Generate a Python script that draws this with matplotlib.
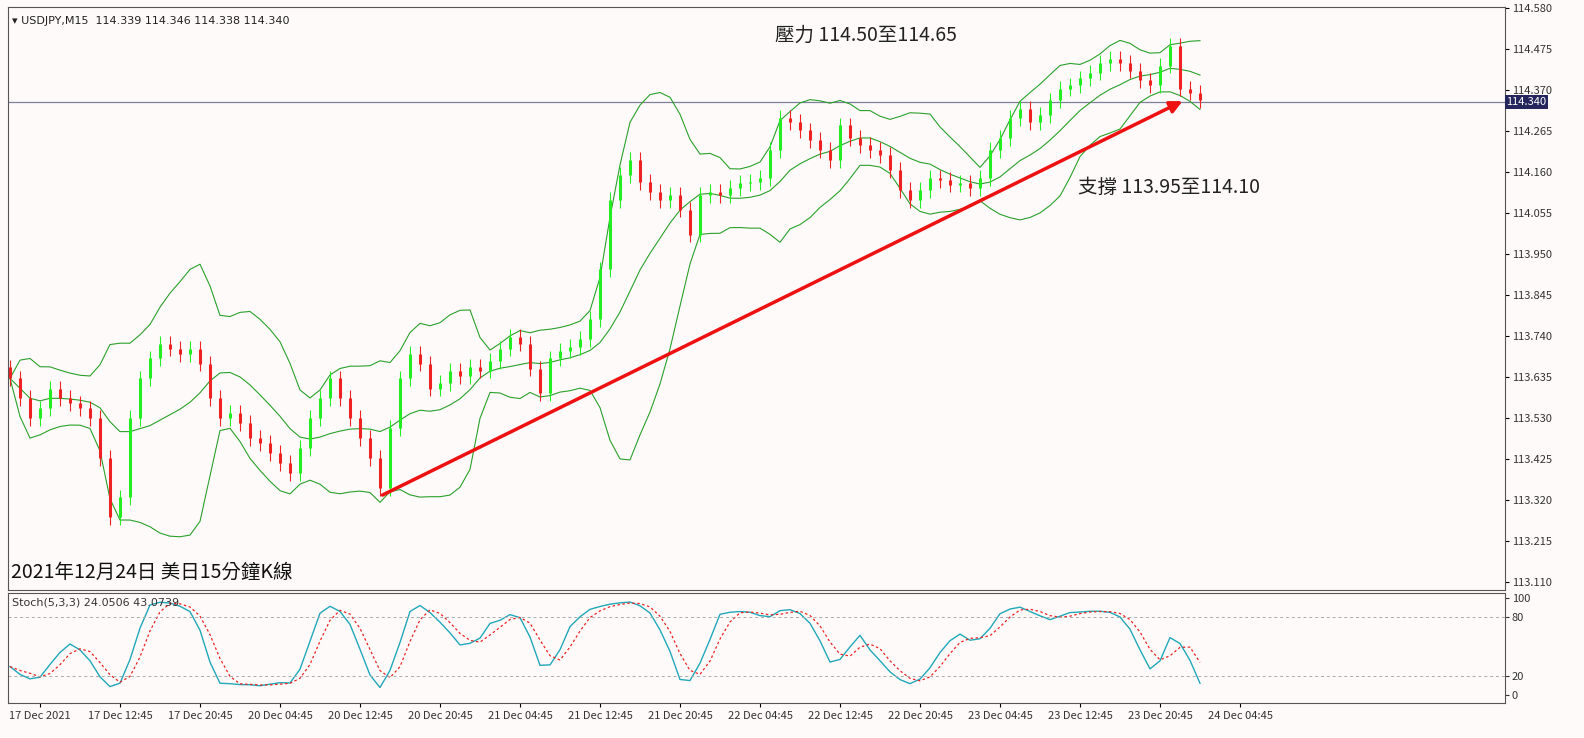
import numpy as np, pandas as pd
import matplotlib
matplotlib.use("Agg")
import matplotlib.pyplot as plt
plt.rcParams['font.family'] = ['Noto Sans CJK TC', 'DejaVu Sans']

closes = [113.632,113.581,113.530,113.555,113.606,113.581,113.568,113.555,113.530,113.428,
113.276,113.327,113.530,113.632,113.683,113.721,113.708,113.695,113.708,113.670,
113.581,113.530,113.543,113.517,113.479,113.466,113.441,113.415,113.390,113.454,
113.530,113.581,113.632,113.581,113.530,113.479,113.428,113.352,113.505,113.632,
113.695,113.670,113.606,113.620,113.652,113.637,113.662,113.652,113.677,113.708,
113.738,113.721,113.657,113.594,113.683,113.703,113.713,113.733,113.784,113.911,
114.089,114.153,114.191,114.135,114.110,114.089,114.102,114.064,114.000,114.102,
114.110,114.102,114.120,114.133,114.135,114.145,114.217,114.298,114.288,114.267,
114.242,114.217,114.191,114.280,114.247,114.229,114.217,114.204,114.166,114.115,
114.089,114.115,114.145,114.140,114.128,114.133,114.120,114.145,114.217,114.247,
114.298,114.323,114.288,114.306,114.344,114.374,114.382,114.400,114.415,114.440,
114.451,114.440,114.420,114.395,114.382,114.433,114.484,114.374,114.364,114.344]
first_open = 113.660
tick_labels = ["17 Dec 2021","17 Dec 12:45","17 Dec 20:45","20 Dec 04:45","20 Dec 12:45",
"20 Dec 20:45","21 Dec 04:45","21 Dec 12:45","21 Dec 20:45","22 Dec 04:45","22 Dec 12:45",
"22 Dec 20:45","23 Dec 04:45","23 Dec 12:45","23 Dec 20:45","24 Dec 04:45"]
yticks = [113.110,113.215,113.320,113.425,113.530,113.635,113.740,113.845,113.950,
114.055,114.160,114.265,114.370,114.475,114.580]
last_price = 114.340

c = np.array(closes); o = np.concatenate([[first_open], c[:-1]])
h = np.maximum(o, c) + 0.02; l = np.minimum(o, c) - 0.02
n = len(c); x = np.arange(n)
s = pd.Series(c)
mid = s.rolling(10, min_periods=1).mean(); sd = s.rolling(10, min_periods=1).std().fillna(0)
up = mid + 2*sd; lo = mid - 2*sd
hh = pd.Series(h).rolling(5, min_periods=1).max(); ll = pd.Series(l).rolling(5, min_periods=1).min()
k = ((s-ll).rolling(3,min_periods=1).sum()/(hh-ll).rolling(3,min_periods=1).sum()*100)
d = k.rolling(3, min_periods=1).mean()

bg = '#fffafa'
fig = plt.figure(figsize=(15.84, 7.38), dpi=100, facecolor=bg)
W, H = 1584, 738
ax = fig.add_axes([8/W, 1-590/H, 1497/W, 583/H], facecolor=bg)
ax2 = fig.add_axes([8/W, 1-703/H, 1497/W, 110/H], facecolor=bg, sharex=ax)
for a in (ax, ax2):
    for sp in a.spines.values(): sp.set_color('#555555'); sp.set_linewidth(0.8)
ax.axhline(last_price, color='#7a7f9a', lw=0.9)
ax.plot(x, up, color='#2aa02a', lw=0.8); ax.plot(x, mid, color='#2aa02a', lw=0.8); ax.plot(x, lo, color='#2aa02a', lw=0.8)
for i in range(n):
    col = '#22ee22' if c[i] >= o[i] else '#ee2222'
    ax.vlines(i, l[i], h[i], color=col, lw=0.8)
    ax.vlines(i, min(o[i],c[i]), max(o[i],c[i]), color=col, lw=2.2)
ax.annotate('', xy=(117.5, 114.345), xytext=(37, 113.33),
            arrowprops=dict(arrowstyle='-|>', color='#ee1111', lw=2.5, mutation_scale=18))
ax.set_xlim(-0.2, 149.5)
ax.set_ylim(113.09, 114.583)
ax.yaxis.tick_right(); ax.set_yticks(yticks)
ax.set_yticklabels([f"{v:.3f}" for v in yticks], fontsize=8, color='#333333')
ax.tick_params(axis='y', length=3, pad=2)
ax.tick_params(axis='x', bottom=False, labelbottom=False)
ax.text(1.001, last_price, f"{last_price:.3f}", transform=ax.get_yaxis_transform(),
        fontsize=8, color='white', va='center', ha='left',
        bbox=dict(boxstyle='square,pad=0.15', fc='#26265e', ec='none'))
ax.text(0.003, 0.985, '▾ USDJPY,M15  114.339 114.346 114.338 114.340', transform=ax.transAxes,
        fontsize=8, va='top', color='#222222', family=['DejaVu Sans'])
ax.text(0.573, 0.97, '壓力 114.50至114.65', transform=ax.transAxes, fontsize=14, ha='center', va='top', color='#222222')
ax.text(0.715, 0.69, '支撐 113.95至114.10', transform=ax.transAxes, fontsize=14, ha='left', va='center', color='#222222')
ax.text(0.002, 0.012, '2021年12月24日 美日15分鐘K線', transform=ax.transAxes, fontsize=14, ha='left', va='bottom', color='#111111')

ax2.plot(x, k, color='#20a8b8', lw=1.0)
ax2.plot(x, d, color='#ee2222', lw=0.9, ls=(0,(2,2)))
for lv in (80, 20): ax2.axhline(lv, color='#aaaaaa', lw=0.7, ls=(0,(3,3)))
ax2.set_ylim(-8, 105)
ax2.yaxis.tick_right(); ax2.set_yticks([0,20,80,100])
ax2.tick_params(axis='y', labelsize=8, length=3, pad=2, colors='#333333')
ax2.text(0.003, 0.96, 'Stoch(5,3,3) 24.0506 43.0739', transform=ax2.transAxes, fontsize=8, va='top', color='#333333', family=['DejaVu Sans'])
pos = [3 + 8*i for i in range(len(tick_labels))]
ax2.set_xticks(pos); ax2.set_xticklabels(tick_labels, fontsize=8, color='#333333')
ax2.tick_params(axis='x', length=3, pad=3)
fig.savefig('out.png', dpi=100, facecolor=bg)
